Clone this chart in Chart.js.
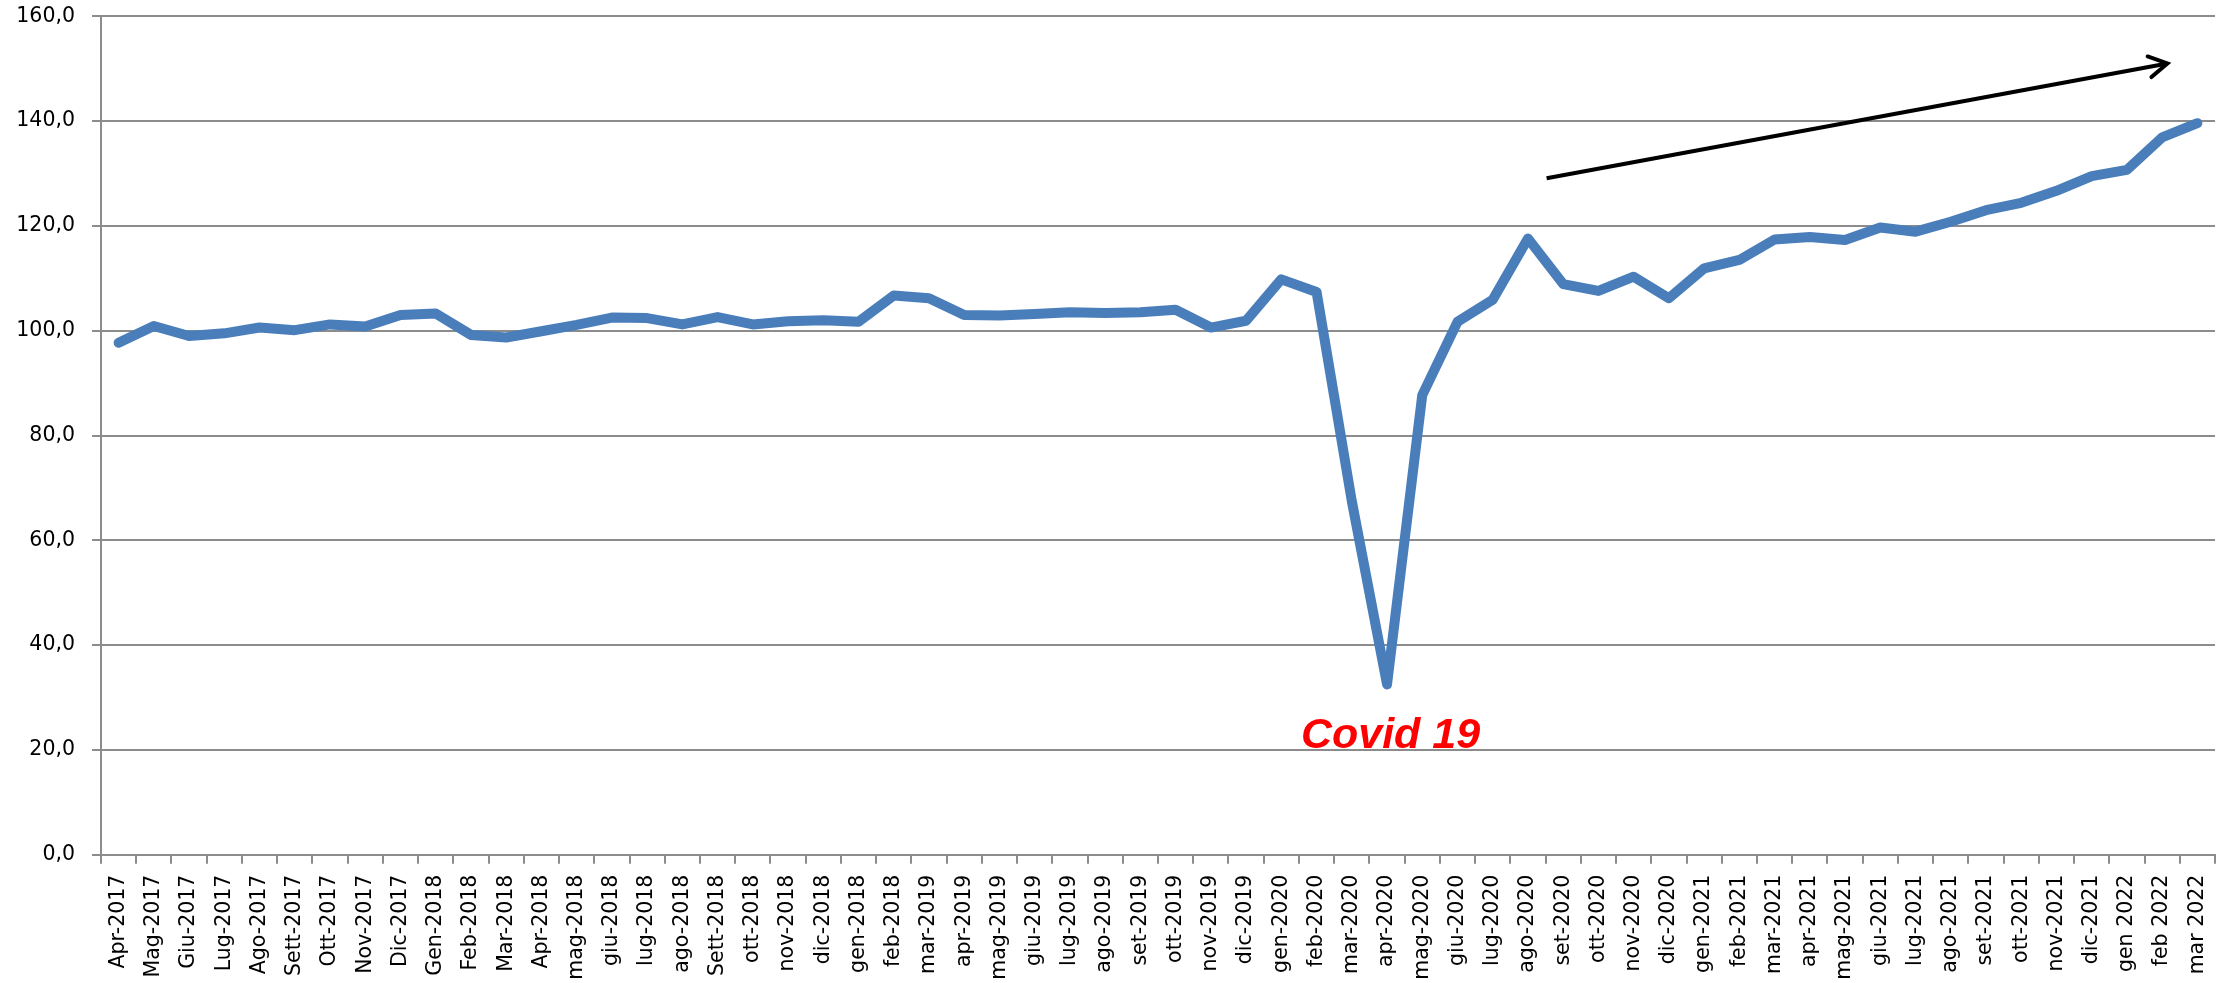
<!DOCTYPE html>
<html>
<head>
<meta charset="utf-8">
<script src="https://cdn.jsdelivr.net/npm/chart.js@4.4.1/dist/chart.umd.min.js"></script>
<style>
  html, body { margin: 0; padding: 0; background: #ffffff; }
  #wrap { width: 2229px; height: 983px; position: relative; }
</style>
</head>
<body>
<div id="wrap"><canvas id="c" width="2229" height="983"></canvas></div>
<script>
// ---- Data ----
const categories = [
  'Apr-2017','Mag-2017','Giu-2017','Lug-2017','Ago-2017','Sett-2017','Ott-2017','Nov-2017','Dic-2017',
  'Gen-2018','Feb-2018','Mar-2018','Apr-2018','mag-2018','giu-2018','lug-2018','ago-2018','Sett-2018',
  'ott-2018','nov-2018','dic-2018','gen-2018','feb-2018',
  'mar-2019','apr-2019','mag-2019','giu-2019','lug-2019','ago-2019','set-2019','ott-2019','nov-2019','dic-2019',
  'gen-2020','feb-2020','mar-2020','apr-2020','mag-2020','giu-2020','lug-2020','ago-2020','set-2020','ott-2020','nov-2020','dic-2020',
  'gen-2021','feb-2021','mar-2021','apr-2021','mag-2021','giu-2021','lug-2021','ago-2021','set-2021','ott-2021','nov-2021','dic-2021',
  'gen 2022','feb 2022','mar 2022'
];
const values = [
  97.7, 100.9, 99.0, 99.5, 100.6, 100.1, 101.2, 100.8, 103.0,
  103.3, 99.2, 98.7, 99.9, 101.1, 102.5, 102.4, 101.2, 102.6,
  101.2, 101.8, 102.0, 101.7, 106.7,
  106.2, 103.0, 102.9, 103.2, 103.5, 103.4, 103.5, 104.0, 100.6, 101.9,
  109.8, 107.4, 67.5, 32.5, 87.7, 101.7, 105.9, 117.6, 108.9, 107.6, 110.3, 106.2,
  111.9, 113.5, 117.4, 117.9, 117.3, 119.7, 118.9, 120.8, 123.0, 124.4, 126.7, 129.5,
  130.7, 136.9, 139.6
];
const yTicks = [0, 20, 40, 60, 80, 100, 120, 140, 160];
// annotation anchors in data units: [category index, value]
const arrowStart = [40.53, 129.1];
const arrowEnd = [58.15, 151.0];
const covidText = 'Covid 19';
const covidPos = [36.1, 20.4];

const GRID = '#8c8c8c';
const FONT = 'DejaVu Sans';

const annotationPlugin = {
  id: 'annot',
  afterDatasetsDraw(chart) {
    const ctx = chart.ctx;
    const xs = chart.scales.x, ys = chart.scales.y;
    const x1 = xs.getPixelForValue(arrowStart[0]), y1 = ys.getPixelForValue(arrowStart[1]);
    const x2 = xs.getPixelForValue(arrowEnd[0]), y2 = ys.getPixelForValue(arrowEnd[1]);
    ctx.save();
    ctx.strokeStyle = '#000000';
    ctx.lineWidth = 4;
    ctx.lineCap = 'butt';
    ctx.beginPath();
    ctx.moveTo(x1, y1);
    ctx.lineTo(x2, y2);
    ctx.stroke();
    const ang = Math.atan2(y2 - y1, x2 - x1);
    const L = 21, spread = Math.PI / 6;
    ctx.lineCap = 'round';
    ctx.lineJoin = 'miter';
    ctx.beginPath();
    ctx.moveTo(x2 - L * Math.cos(ang - spread), y2 - L * Math.sin(ang - spread));
    ctx.lineTo(x2, y2);
    ctx.lineTo(x2 - L * Math.cos(ang + spread), y2 - L * Math.sin(ang + spread));
    ctx.stroke();

    ctx.fillStyle = '#ff0000';
    ctx.font = 'italic bold 43px "Liberation Sans", Arial, sans-serif';
    ctx.textAlign = 'center';
    ctx.textBaseline = 'alphabetic';
    ctx.fillText(covidText, xs.getPixelForValue(covidPos[0]), ys.getPixelForValue(covidPos[1]));
    ctx.restore();
  }
};

new Chart(document.getElementById('c'), {
  type: 'line',
  data: {
    labels: categories,
    datasets: [{
      data: values,
      borderColor: '#4a7ebb',
      backgroundColor: '#4a7ebb',
      borderWidth: 10,
      borderJoinStyle: 'round',
      borderCapStyle: 'round',
      pointRadius: 0,
      pointHoverRadius: 0,
      tension: 0,
      fill: false
    }]
  },
  options: {
    responsive: false,
    devicePixelRatio: 1,
    animation: false,
    events: [],
    layout: { padding: { top: 16.3, right: 14, bottom: 0, left: 0 } },
    plugins: { legend: { display: false }, tooltip: { enabled: false } },
    scales: {
      x: {
        type: 'category',
        offset: true,
        grid: {
          offset: true,
          drawOnChartArea: false,
          drawTicks: true,
          tickLength: 9,
          color: GRID,
          lineWidth: 2
        },
        border: { display: true, color: GRID, width: 2 },
        ticks: {
          autoSkip: false,
          maxRotation: 90,
          minRotation: 90,
          padding: 11,
          color: '#000000',
          font: { family: FONT, size: 20.5 }
        },
        afterFit(scale) {
          scale.height = 128.3;
          scale.paddingLeft = 0; scale.paddingRight = 0;
          scale.paddingTop = 0; scale.paddingBottom = 0;
        }
      },
      y: {
        min: 0,
        max: 160,
        afterBuildTicks(scale) { scale.ticks = yTicks.map(v => ({ value: v })); },
        grid: {
          drawTicks: true,
          tickLength: 9,
          color: GRID,
          lineWidth: 2
        },
        border: { display: true, color: GRID, width: 2 },
        ticks: {
          padding: 17,
          color: '#000000',
          font: { family: FONT, size: 20.5 },
          callback: (v) => Number(v).toFixed(1).replace('.', ',')
        },
        afterFit(scale) {
          scale.width = 101;
          scale.paddingLeft = 0; scale.paddingRight = 0;
          scale.paddingTop = 0; scale.paddingBottom = 0;
        }
      }
    }
  },
  plugins: [annotationPlugin]
});
</script>
</body>
</html>
